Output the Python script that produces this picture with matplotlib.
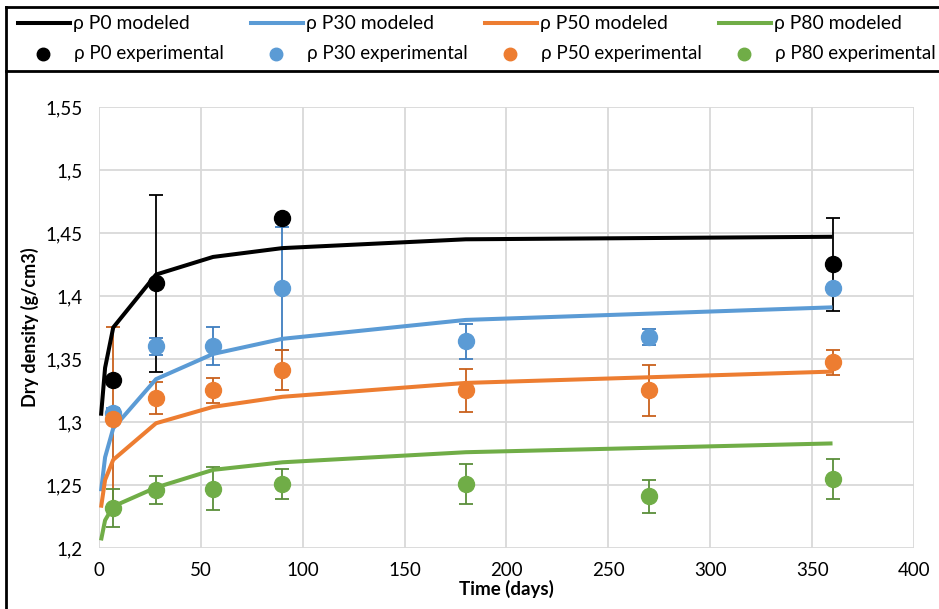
import numpy as np
import matplotlib.pyplot as plt
from matplotlib.lines import Line2D
from matplotlib.ticker import FuncFormatter

plt.rcParams['font.family'] = ['Lato', 'DejaVu Sans']

# modeled curves
days_model = [1, 3, 7, 28, 56, 90, 180, 360]
p0_model = [1.305, 1.343, 1.375, 1.417, 1.431, 1.438, 1.445, 1.447]
p30_model = [1.245, 1.272, 1.295, 1.334, 1.354, 1.366, 1.381, 1.391]
p50_model = [1.232, 1.254, 1.270, 1.299, 1.312, 1.320, 1.331, 1.340]
p80_model = [1.206, 1.222, 1.233, 1.248, 1.262, 1.268, 1.276, 1.283]

# experimental points
p0_days = [7, 28, 90, 360]
p0_exp = [1.333, 1.410, 1.462, 1.425]
p0_err = [0.0, 0.070, 0.0, 0.037]

exp_days = [7, 28, 56, 90, 180, 270, 360]
p30_exp = [1.307, 1.360, 1.360, 1.406, 1.364, 1.3675, 1.406]
p30_err = [0.004, 0.007, 0.015, 0.049, 0.014, 0.0065, 0.0]
p50_exp = [1.302, 1.319, 1.325, 1.341, 1.325, 1.325, 1.3475]
p50_err = [0.073, 0.013, 0.010, 0.016, 0.017, 0.020, 0.010]
p80_exp = [1.232, 1.246, 1.247, 1.251, 1.251, 1.241, 1.2545]
p80_err = [0.015, 0.011, 0.017, 0.012, 0.016, 0.013, 0.016]

names = ["P0", "P30", "P50", "P80"]
colors = ["#000000", "#5B9BD5", "#ED7D31", "#70AD47"]
err_colors = ["#000000", "#3F7EBF", "#C9611C", "#5A8F3A"]

models = [p0_model, p30_model, p50_model, p80_model]
exps = [(p0_days, p0_exp, p0_err), (exp_days, p30_exp, p30_err),
        (exp_days, p50_exp, p50_err), (exp_days, p80_exp, p80_err)]

fig = plt.figure(figsize=(9.39, 6.09), dpi=100)
ax = fig.add_axes([0.1054, 0.1002, 0.8680, 0.7241])

for i in range(4):
    ax.plot(days_model, models[i], color=colors[i], lw=2.9, zorder=3,
            solid_capstyle='butt')
for i in range(4):
    d, v, e = exps[i]
    ax.errorbar(d, v, yerr=e, fmt='none', ecolor=err_colors[i], elinewidth=1.3,
                capsize=5, capthick=1.3, zorder=2)
    ax.plot(d, v, 'o', color=colors[i], ms=11.5, zorder=4, ls='none')

ax.set_xlim(0, 400)
ax.set_ylim(1.2, 1.55)
ax.set_xticks(np.arange(0, 401, 50))
ax.set_yticks(np.arange(1.2, 1.5501, 0.05))
ax.yaxis.set_major_formatter(FuncFormatter(lambda v, p: ('%g' % round(v, 2)).replace('.', ',')))
ax.grid(True, color='#D9D9D9', lw=1.3)
ax.set_axisbelow(True)
for s in ax.spines.values():
    s.set_visible(False)
ax.tick_params(length=0, labelsize=13.5, pad=10)
ax.tick_params(axis='y', pad=12)
ax.set_xlabel("Time (days)", fontsize=13.5, fontweight='bold', labelpad=1)
ax.set_ylabel("Dry density (g/cm3)", fontsize=13, fontweight='bold', labelpad=4)

# legend (drawn by hand, Excel style)
col_x = [18, 251, 485, 719]
W, H = 939.0, 609.0
for i in range(4):
    x0 = col_x[i]
    fig.add_artist(Line2D([x0 / W, (x0 + 52) / W], [1 - 23 / H, 1 - 23 / H],
                          color=colors[i], lw=2.9, transform=fig.transFigure))
    fig.text((x0 + 55) / W, 1 - 23 / H, "ρ %s modeled" % names[i], fontsize=13.9,
             va='center', ha='left')
    fig.add_artist(Line2D([(x0 + 25) / W], [1 - 54 / H], marker='o', ms=9,
                          color=colors[i], ls='none', transform=fig.transFigure))
    fig.text((x0 + 56) / W, 1 - 54 / H, "ρ %s experimental" % names[i], fontsize=13.5,
             va='center', ha='left')

# frame lines
fig.add_artist(Line2D([6 / W, 1], [1 - 7 / H, 1 - 7 / H], color='black', lw=2,
                      transform=fig.transFigure))
fig.add_artist(Line2D([6 / W, 1], [1 - 71 / H, 1 - 71 / H], color='black', lw=2,
                      transform=fig.transFigure))
fig.add_artist(Line2D([6 / W, 6 / W], [0, 1 - 7 / H], color='black', lw=2,
                      transform=fig.transFigure))

fig.savefig("out.png", dpi=100)
